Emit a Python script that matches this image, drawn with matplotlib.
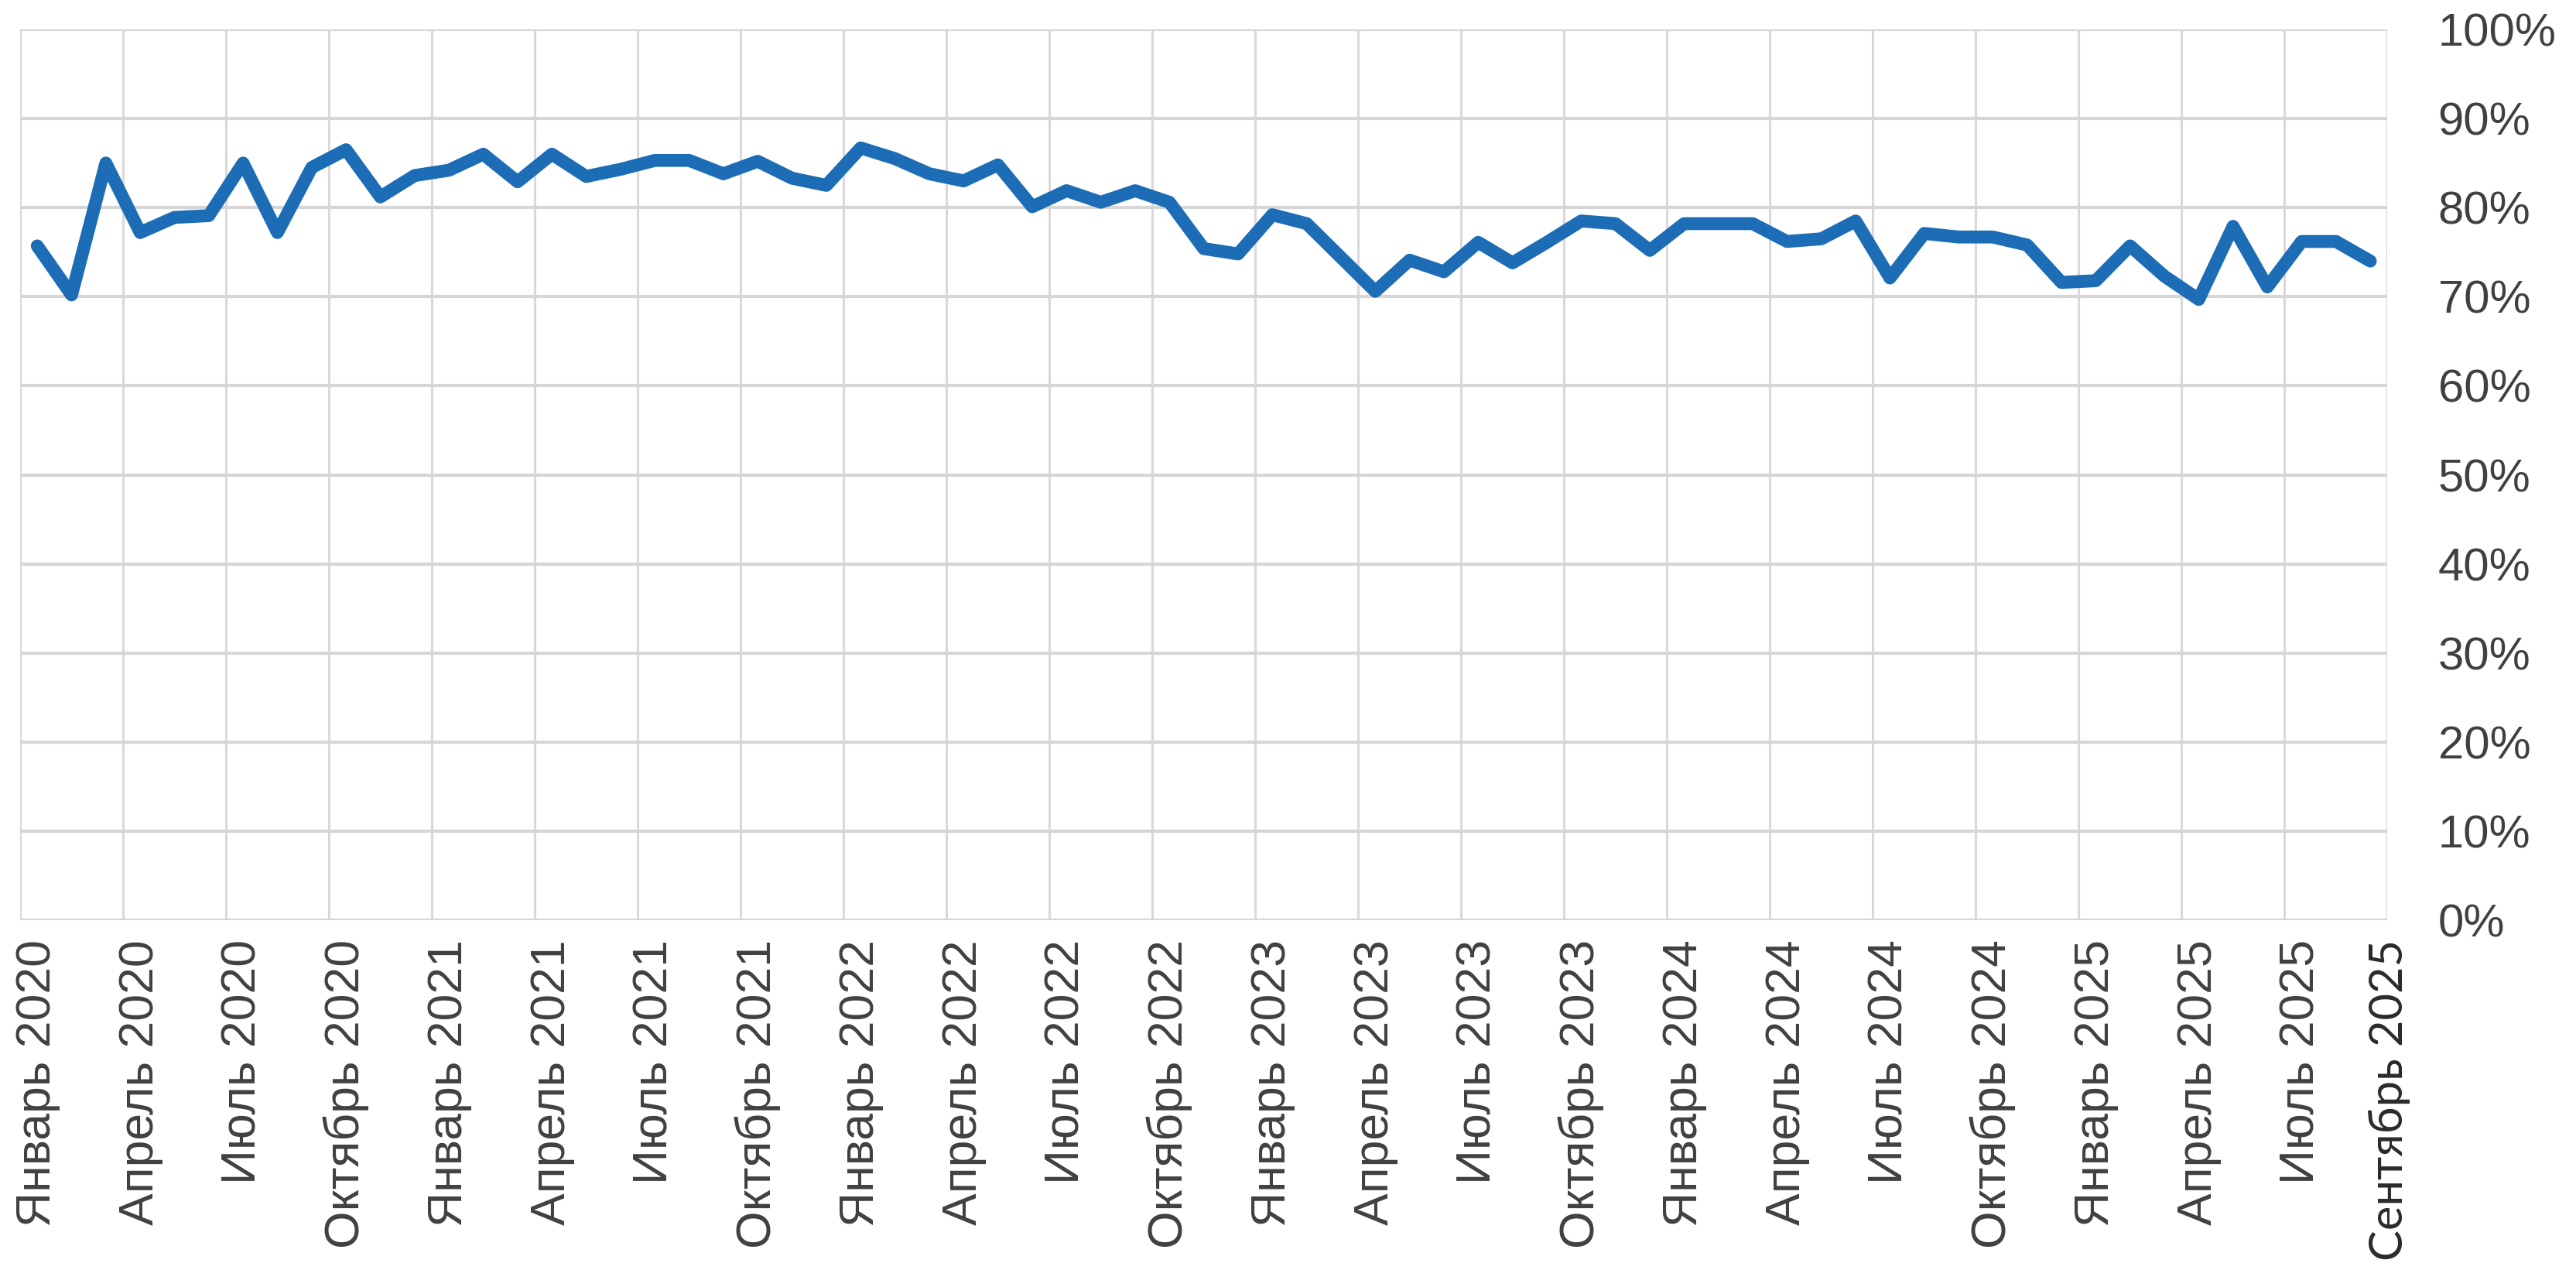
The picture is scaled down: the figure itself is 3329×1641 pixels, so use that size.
import matplotlib.pyplot as plt
import matplotlib.transforms as mtransforms
import numpy as np

# monthly share, Jan 2020 .. Sep 2025 (69 months)
values = [
    75.7, 70.2, 85.0, 77.2, 78.9, 79.1, 85.0, 77.2, 84.5, 86.5, 81.2, 83.6,
    84.2, 86.0, 82.9, 86.0, 83.5, 84.3, 85.3, 85.3, 83.8, 85.2, 83.3, 82.5,
    86.7, 85.5, 83.8, 83.0, 84.8, 80.1, 81.9, 80.6, 81.9, 80.6, 75.4, 74.8,
    79.2, 78.2, 74.4, 70.6, 74.1, 72.8, 76.1, 73.8, 76.1, 78.5, 78.2, 75.2,
    78.2, 78.2, 78.2, 76.2, 76.5, 78.5, 72.1, 77.1, 76.7, 76.7, 75.8, 71.6,
    71.8, 75.7, 72.3, 69.7, 77.9, 71.1, 76.2, 76.2, 74.0,
]
tick_months = [0, 3, 6, 9, 12, 15, 18, 21, 24, 27, 30, 33, 36, 39, 42, 45,
               48, 51, 54, 57, 60, 63, 66, 68]
tick_labels = [
    "Январь 2020", "Апрель 2020", "Июль 2020", "Октябрь 2020",
    "Январь 2021", "Апрель 2021", "Июль 2021", "Октябрь 2021",
    "Январь 2022", "Апрель 2022", "Июль 2022", "Октябрь 2022",
    "Январь 2023", "Апрель 2023", "Июль 2023", "Октябрь 2023",
    "Январь 2024", "Апрель 2024", "Июль 2024", "Октябрь 2024",
    "Январь 2025", "Апрель 2025", "Июль 2025", "Сентябрь 2025",
]
y_ticks = [0, 10, 20, 30, 40, 50, 60, 70, 80, 90, 100]

plt.rcParams['font.family'] = ['Liberation Sans', 'DejaVu Sans']

x = np.arange(len(values))
fig = plt.figure(figsize=(33.29, 16.41), dpi=100)
ax = fig.add_axes([0.0078, 0.2754, 0.919, 0.7014])

ax.plot(x, values, color='#1c6db5', lw=12, solid_joinstyle='round',
        solid_capstyle='round', zorder=3)

ax.set_xlim(-0.5, len(values) - 0.5)
ax.set_ylim(0, 100)

# grid: horizontal every 10%, vertical every quarter between categories
ax.set_yticks(y_ticks)
ax.set_yticklabels([f"{v}%" for v in y_ticks])
ax.set_xticks(np.arange(-0.5, len(values), 3), minor=True)
ax.set_xticks(tick_months)
ax.set_xticklabels(tick_labels, rotation=90)
ax.grid(axis='y', which='major', color='#d6d6d6', lw=3.0)
ax.grid(axis='x', which='minor', color='#d9d9d9', lw=2.2)
ax.grid(axis='x', which='major', visible=False)

ax.yaxis.tick_right()
ax.tick_params(axis='y', length=0, pad=47, labelsize=43, labelcolor='#404040')
ax.tick_params(axis='x', which='both', length=0, pad=18, labelsize=45,
               labelcolor='#404040')
for s in ax.spines.values():
    s.set_visible(False)

# last label is set in a lighter, different face in the original
last = ax.get_xticklabels()[-1]
last.set_fontfamily(['Lato', 'DejaVu Sans'])
last.set_fontsize(43)
last.set_color('#2a2a2a')
last.set_transform(last.get_transform() +
                   mtransforms.ScaledTranslation(0.25, 0, fig.dpi_scale_trans))

fig.savefig('out.png', dpi=100, facecolor='white')
